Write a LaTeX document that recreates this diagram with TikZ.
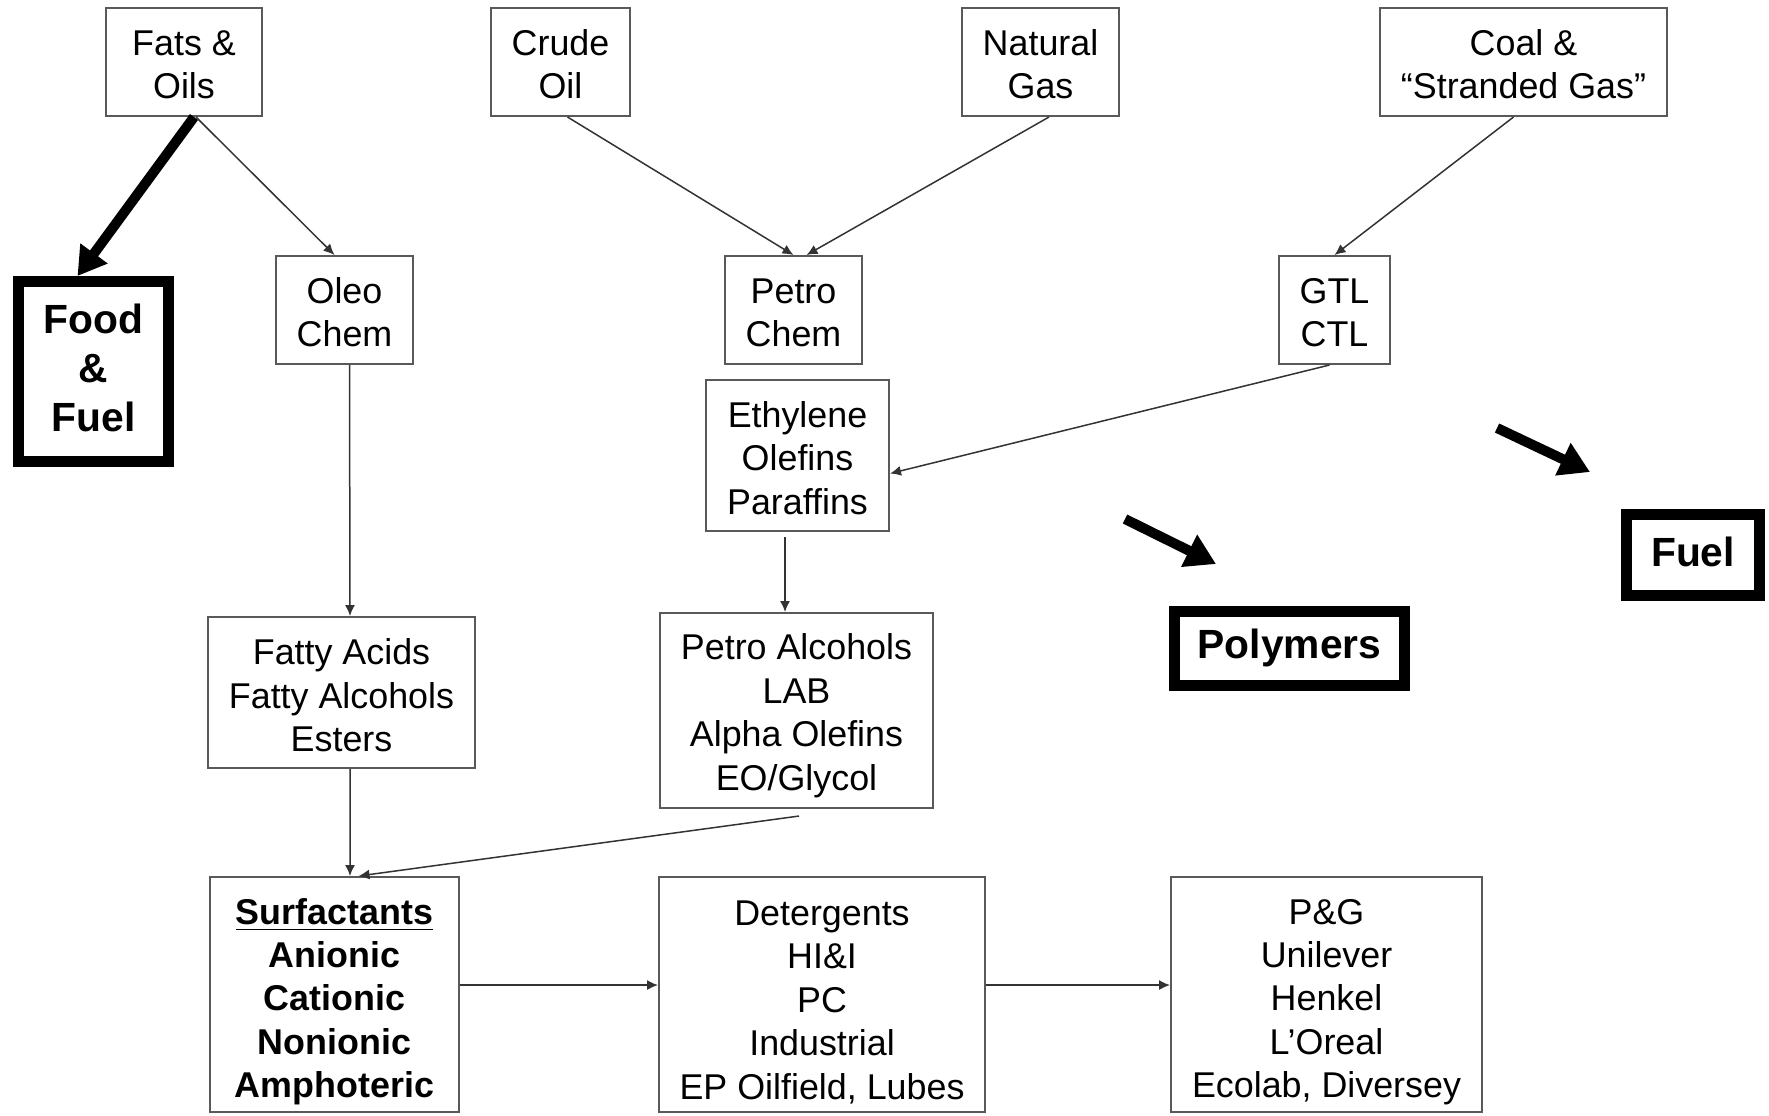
\documentclass[tikz,border=0pt]{standalone}
\usepackage{fontspec}
\setmainfont{Liberation Sans}
\usetikzlibrary{arrows.meta}

\begin{document}
\begin{tikzpicture}[x=0.1mm,y=-0.1mm,
  box/.style={draw=black!65,line width=0.2mm,align=center,inner sep=0pt,font=\fontsize{10.2}{12.35}\selectfont,execute at begin node={\rule{0pt}{#1}}},
  box/.default=21.1pt,
  bigbox/.style={draw=black,line width=1.1mm,align=center,inner sep=0pt,font=\fontsize{11.6}{14}\selectfont\bfseries,execute at end node={\rule[-2pt]{0pt}{1pt}}},
  link/.style={draw=black!80,line width=0.15mm,-{Latex[length=1.1mm,width=1mm]}},
  fat/.style={line width=1mm,-{Triangle[length=2.8mm,width=3.2mm]}},
  block/.style={line width=1mm,-{Triangle[length=3mm,width=3.4mm]}}]
\useasboundingbox (0,0) rectangle (1769,1115);
\node[box,minimum width=15.6mm,minimum height=10.8mm] (fats) at (184,62) {Fats \&\\Oils};
\node[box,minimum width=13.9mm,minimum height=10.8mm] (crude) at (560.5,62) {Crude\\Oil};
\node[box,minimum width=15.7mm,minimum height=10.8mm] (gas) at (1040.5,62) {Natural\\Gas};
\node[box,minimum width=28.7mm,minimum height=10.8mm] (coal) at (1523.5,62) {Coal \&\\“Stranded Gas”};
\node[bigbox,minimum width=15mm,minimum height=18mm] (food) at (93.5,371.5) {Food\\\&\\Fuel};
\node[box,minimum width=13.7mm,minimum height=10.8mm] (oleo) at (344.5,310) {Oleo\\Chem};
\node[box,minimum width=13.7mm,minimum height=10.8mm] (petro) at (793.5,310) {Petro\\Chem};
\node[box,minimum width=11.1mm,minimum height=10.8mm] (gtl) at (1334.5,310) {GTL\\CTL};
\node[box=33.4pt,minimum width=18.3mm,minimum height=15.1mm] (olefins) at (797.5,455.5) {Ethylene\\Olefins\\Paraffins};
\node[bigbox,minimum width=13.3mm,minimum height=8.1mm] (fuel) at (1693,555) {Fuel};
\node[bigbox,minimum width=23mm,minimum height=7.4mm] (polymers) at (1289.5,648) {Polymers};
\node[box=33.7pt,minimum width=26.7mm,minimum height=15.1mm] (fatty) at (341.5,692.5) {Fatty Acids\\Fatty Alcohols\\Esters};
\node[box=47.4pt,minimum width=27.3mm,minimum height=19.5mm] (petroalc) at (796.5,710.5) {Petro Alcohols\\LAB\\Alpha Olefins\\EO/Glycol};
\node[box=60.8pt,font=\fontsize{10.2}{12.35}\selectfont\bfseries,minimum width=24.9mm,minimum height=23.5mm] (surf) at (334.5,994.5) {\underline{Surfactants}\\Anionic\\Cationic\\Nonionic\\Amphoteric};
\node[box=60.8pt,minimum width=32.6mm,minimum height=23.5mm] (deterg) at (822,994.5) {Detergents\\HI\&I\\PC\\Industrial\\EP Oilfield, Lubes};
\node[box=60.8pt,minimum width=31.1mm,minimum height=23.5mm] (brands) at (1326.5,994.5) {P\&G\\Unilever\\Henkel\\L’Oreal\\Ecolab, Diversey};
\coordinate (polytail) at (1125,519);
\coordinate (polytip) at (1216,564);
\coordinate (fueltail) at (1497,428);
\coordinate (fueltip) at (1590,472);
\draw[fat] ([xshift=1mm]fats.south) -- ([xshift=-1.6mm]food.north);
\draw[link] ([xshift=1.2mm]fats.south) -- ([xshift=-1mm]oleo.north);
\draw[link] ([xshift=0.7mm]crude.south) -- (petro.north);
\draw[link] ([xshift=0.85mm]gas.south) -- ([xshift=1.3mm]petro.north);
\draw[link] ([xshift=-1mm]coal.south) -- (gtl.north);
\draw[link] ([xshift=-0.5mm]gtl.south) -- ([yshift=-1.8mm]olefins.east);
\draw[link] ([xshift=0.5mm]oleo.south) -- ([xshift=0.85mm]fatty.north);
\draw[link] ([xshift=-1.25mm,yshift=-0.5mm]olefins.south) -- ([xshift=-1.15mm]petroalc.north);
\draw[link] ([xshift=0.85mm]fatty.south) -- ([xshift=1.55mm]surf.north);
\draw[link] ([xshift=0.25mm,yshift=-0.7mm]petroalc.south) -- ([xshift=2.4mm]surf.north);
\draw[link] ([yshift=0.95mm]surf.east) -- ([yshift=0.95mm]deterg.west);
\draw[link] ([yshift=0.95mm]deterg.east) -- ([yshift=0.95mm]brands.west);
\draw[block] (polytail) -- (polytip);
\draw[block] (fueltail) -- (fueltip);
\end{tikzpicture}
\end{document}
